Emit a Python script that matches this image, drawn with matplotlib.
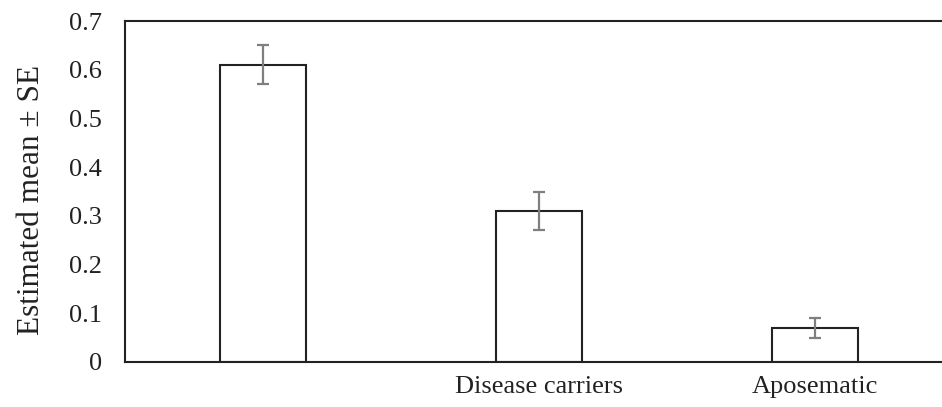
import matplotlib.pyplot as plt
import numpy as np

categories = ["", "Disease carriers", "Aposematic"]
means = [0.61, 0.31, 0.07]
errors = [0.04, 0.04, 0.02]
yticks = [0, 0.1, 0.2, 0.3, 0.4, 0.5, 0.6, 0.7]
yticklabels = ["0", "0.1", "0.2", "0.3", "0.4", "0.5", "0.6", "0.7"]

plt.rcParams["font.family"] = ["Liberation Serif", "DejaVu Serif"]

fig = plt.figure(figsize=(9.42, 4.07), dpi=100)
# axes runs a bit past the right edge, as in the cropped original
ax = fig.add_axes([125 / 942, 45 / 407, 828 / 942, 341 / 407])

x = np.arange(len(categories))
ax.bar(x, means, width=0.315, color="white", edgecolor="#222222", linewidth=1.5, zorder=2)
ax.errorbar(x, means, yerr=errors, fmt="none", ecolor="#7f7f7f", elinewidth=1.6,
            capsize=4, capthick=1.6, zorder=3)

ax.set_xlim(-0.5, 2.5)
ax.set_ylim(0, 0.7)
ax.set_yticks(yticks)
ax.set_yticklabels(yticklabels, fontsize=19, color="#222222")
ax.set_xticks(x)
ax.set_xticklabels(categories, fontsize=19, color="#222222")
ax.tick_params(length=0, pad=16.5, axis="y")
ax.tick_params(length=0, pad=10, axis="x")
ax.set_ylabel("Estimated mean \u00b1 SE", fontsize=22.5, color="#222222")
ax.yaxis.set_label_coords(-79 / 828, 0.475)

for side in ["left", "bottom", "top", "right"]:
    ax.spines[side].set_color("#222222")
    ax.spines[side].set_linewidth(1.5)

fig.savefig("out.png", dpi=100)
